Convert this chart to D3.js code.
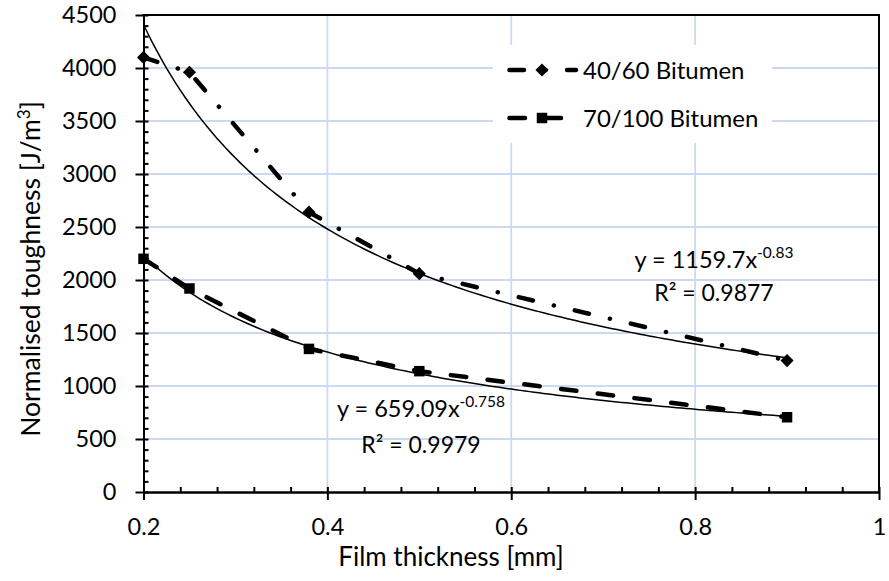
<!DOCTYPE html>
<html>
<head>
<meta charset="utf-8">
<script src="https://cdn.jsdelivr.net/npm/d3@7"></script>
<style>
  body { margin: 0; background: #fff; }
  svg { display: block; }
  text { font-family: Lato, "Open Sans", sans-serif; fill: #000; }
</style>
</head>
<body>
<svg id="chart" width="889" height="581"></svg>
<script>
// Film thickness (mm) at which the specimens were tested
const thickness = [0.2, 0.25, 0.38, 0.5, 0.9];
// Normalised toughness (J/m3) per bitumen grade
const toughness4060 = [4100, 3960, 2640, 2060, 1240];
const toughness70100 = [2200, 1920, 1350, 1140, 705];
const seriesNames = ["40/60 Bitumen", "70/100 Bitumen"];
// Power-law trendlines y = a * x^b
const fitCoef = [1159.7, 659.09];
const fitExp = [-0.83, -0.758];
const fitR2 = ["0.9877", "0.9979"];
const fitCoefText = ["1159.7", "659.09"];
const fitExpText = ["-0.83", "-0.758"];
// Axis ticks
const xTicks = [0.2, 0.4, 0.6, 0.8, 1];
const xMinorTicks = d3.range(0.2, 1.0001, 0.04);
const yTicks = [0, 500, 1000, 1500, 2000, 2500, 3000, 3500, 4000, 4500];
const yMinorTicks = d3.range(0, 4501, 100);

const svg = d3.select("#chart");
const plotL = 143.5, plotR = 879, plotT = 15, plotB = 492;

const x = d3.scaleLinear().domain([0.2, 1]).range([plotL, plotR]);
const y = d3.scaleLinear().domain([0, 4500]).range([plotB, plotT]);

const gridColor = "#cdd9f0";

// Gridlines
const grid = svg.append("g");
grid.selectAll("line.v").data(xTicks.filter(d => d > 0.2 && d < 1)).join("line")
  .attr("x1", d => x(d)).attr("x2", d => x(d))
  .attr("y1", plotT).attr("y2", plotB)
  .attr("stroke", gridColor).attr("stroke-width", 1.8);
grid.selectAll("line.h").data(yTicks.filter(d => d > 0 && d < 4500)).join("line")
  .attr("x1", plotL).attr("x2", plotR)
  .attr("y1", d => y(d)).attr("y2", d => y(d))
  .attr("stroke", gridColor).attr("stroke-width", 1.8);

// Legend background masks the grid
const legend = svg.append("g");
legend.append("rect").attr("x", 493).attr("y", 45).attr("width", 279).attr("height", 98)
  .attr("fill", "#fff");

// Trendlines
const fitX = d3.range(0.2, 0.9001, 0.005);
const line = d3.line().x(d => x(d[0])).y(d => y(d[1]));
fitCoef.forEach((a, i) => {
  svg.append("path")
    .attr("d", line(fitX.map(t => [t, a * Math.pow(t, fitExp[i])])))
    .attr("fill", "none").attr("stroke", "#000").attr("stroke-width", 1.5);
});

// Data series
const dashDot = "14.5,21.5,0.1,21.5";
const dashed = "15.5,21.5";
const series = [
  { values: toughness4060, dash: dashDot, symbol: d3.symbolDiamond2, size: 110 },
  { values: toughness70100, dash: dashed, symbol: d3.symbolSquare2, size: 140 }
];
series.forEach(s => {
  const pts = thickness.map((t, i) => [t, s.values[i]]);
  svg.append("path")
    .attr("d", line(pts))
    .attr("fill", "none").attr("stroke", "#000").attr("stroke-width", 4.5)
    .attr("stroke-linecap", "round").attr("stroke-dasharray", s.dash);
  svg.append("g").selectAll("path").data(pts).join("path")
    .attr("transform", d => `translate(${x(d[0])},${y(d[1])})`)
    .attr("d", d3.symbol().type(s.symbol).size(s.size))
    .attr("fill", "#000");
});

// Axes: labels plus outer major ticks
svg.append("g").attr("transform", `translate(0,${plotB})`)
  .call(d3.axisBottom(x).tickValues(xTicks).tickFormat(d3.format("~g"))
    .tickSize(8).tickSizeOuter(0).tickPadding(18));
svg.append("g").attr("transform", `translate(${plotL},0)`)
  .call(d3.axisLeft(y).tickValues(yTicks).tickFormat(d3.format("d"))
    .tickSize(8).tickSizeOuter(0).tickPadding(19));
// inner part of the ticks (major and minor)
svg.append("g").attr("transform", `translate(0,${plotB})`)
  .call(d3.axisBottom(x).tickValues(xMinorTicks).tickFormat("").tickSize(-5).tickSizeOuter(0));
svg.append("g").attr("transform", `translate(${plotL},0)`)
  .call(d3.axisLeft(y).tickValues(yMinorTicks).tickFormat("").tickSize(-5).tickSizeOuter(0));

svg.selectAll(".domain, .tick line").attr("stroke", "#000").attr("stroke-width", 2);
svg.selectAll(".tick text").attr("font-size", 23.5).attr("fill", "#000")
  .style("font-family", "Lato, sans-serif");

// Frame on top and right
svg.append("line").attr("x1", plotL - 1).attr("x2", plotR + 1).attr("y1", plotT).attr("y2", plotT)
  .attr("stroke", "#000").attr("stroke-width", 2);
svg.append("line").attr("x1", plotR).attr("x2", plotR).attr("y1", plotT).attr("y2", plotB)
  .attr("stroke", "#000").attr("stroke-width", 2);

// Axis titles
svg.append("text").attr("x", 451).attr("y", 566).attr("text-anchor", "middle")
  .attr("font-size", 26).text("Film thickness [mm]");
const yt = svg.append("text").attr("transform", "translate(40,269) rotate(-90)")
  .attr("text-anchor", "middle").attr("font-size", 26.5);
yt.append("tspan").text("Normalised toughness [J/m");
yt.append("tspan").attr("font-size", 17).attr("dy", -10).text("3");
yt.append("tspan").attr("dy", 10).text("]");

// Legend entries
const legendRows = [
  { y: 70, dash: dashDot, end: 576, symbol: d3.symbolDiamond2, size: 110 },
  { y: 118, dash: dashed, end: 561, symbol: d3.symbolSquare2, size: 140 }
];
legendRows.forEach((r, i) => {
  legend.append("path").attr("d", `M509.5,${r.y}H${r.end}`)
    .attr("stroke", "#000").attr("stroke-width", 4.5).attr("fill", "none")
    .attr("stroke-linecap", "round").attr("stroke-dasharray", r.dash);
  legend.append("path").attr("transform", `translate(542,${r.y})`)
    .attr("d", d3.symbol().type(r.symbol).size(r.size)).attr("fill", "#000");
  legend.append("text").attr("x", 583).attr("y", r.y).attr("dy", "0.36em")
    .attr("font-size", 24).text(seriesNames[i]);
});

// Trendline equations
const eqPos = [{ x: 714, y1: 268, y2: 301 }, { x: 421, y1: 417, y2: 453 }];
eqPos.forEach((p, i) => {
  const t = svg.append("text").attr("x", p.x).attr("y", p.y1).attr("text-anchor", "middle")
    .attr("font-size", 23.5);
  t.append("tspan").text(`y = ${fitCoefText[i]}x`);
  t.append("tspan").attr("font-size", 15.5).attr("dy", -10).text(fitExpText[i]);
  svg.append("text").attr("x", p.x).attr("y", p.y2).attr("text-anchor", "middle")
    .attr("font-size", 23).text(`R² = ${fitR2[i]}`);
});
</script>
</body>
</html>
